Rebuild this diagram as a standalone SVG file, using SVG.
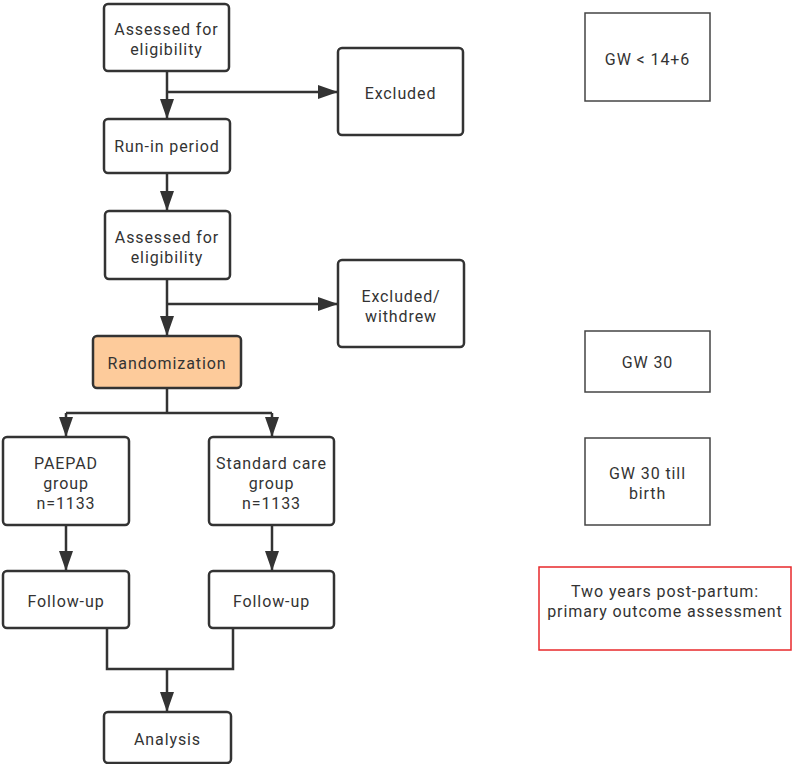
<svg xmlns="http://www.w3.org/2000/svg" width="792" height="764" viewBox="0 0 792 764">
<style>
.n{fill:#fff;stroke:#333;stroke-width:2.5}
.o{fill:#fdcb9b;stroke:#333;stroke-width:2.5}
.s{fill:#fff;stroke:#444;stroke-width:1.5}
.r{fill:#fff;stroke:#e8282b;stroke-width:1.5}
.c{fill:none;stroke:#333;stroke-width:2.5}
text{font-family:Roboto,"Liberation Sans",sans-serif;font-size:16px;letter-spacing:0.9px;fill:#333;text-anchor:middle}
</style>
<defs>
<marker id="a" markerUnits="userSpaceOnUse" markerWidth="20" markerHeight="14" refX="20" refY="7" orient="auto">
<path d="M0,0 L20,7 L0,14 z" fill="#333"/>
</marker>
</defs>
<rect width="792" height="764" fill="#fff"/>
<g id="connectors">
<path class="c" d="M167,71 V119" marker-end="url(#a)"/>
<path class="c" d="M167,92 H338" marker-end="url(#a)"/>
<path class="c" d="M167,173 V211" marker-end="url(#a)"/>
<path class="c" d="M167,279 V336" marker-end="url(#a)"/>
<path class="c" d="M167,304 H338" marker-end="url(#a)"/>
<path class="c" d="M167,388 V413"/>
<path class="c" d="M66,413 H272"/>
<path class="c" d="M66,413 V437" marker-end="url(#a)"/>
<path class="c" d="M272,413 V437" marker-end="url(#a)"/>
<path class="c" d="M66,525 V571" marker-end="url(#a)"/>
<path class="c" d="M272,525 V571" marker-end="url(#a)"/>
<path class="c" d="M107,628 V669 H233 V628"/>
<path class="c" d="M167,669 V712" marker-end="url(#a)"/>
</g>
<g id="assess1"><rect class="n" x="104" y="4" width="125" height="67" rx="4"/><text x="166.5" y="35">Assessed for</text><text x="166.5" y="55">eligibility</text></g>
<g id="excluded1"><rect class="n" x="338" y="48" width="125" height="87" rx="4"/><text x="400.5" y="99">Excluded</text></g>
<g id="runin"><rect class="n" x="104" y="119" width="126" height="54" rx="4"/><text x="167" y="152">Run-in period</text></g>
<g id="assess2"><rect class="n" x="105" y="211" width="125" height="68" rx="4"/><text x="167" y="243">Assessed for</text><text x="167" y="263">eligibility</text></g>
<g id="excluded2"><rect class="n" x="338" y="260" width="126" height="87" rx="4"/><text x="401" y="302">Excluded/</text><text x="401" y="322">withdrew</text></g>
<g id="random"><rect class="o" x="93" y="336" width="148" height="52" rx="4"/><text x="167" y="369">Randomization</text></g>
<g id="paepad"><rect class="n" x="3" y="437" width="126" height="88" rx="4"/><text x="66" y="469">PAEPAD</text><text x="66" y="489">group</text><text x="66" y="509">n=1133</text></g>
<g id="standard"><rect class="n" x="209" y="437" width="125" height="88" rx="4"/><text x="271.5" y="469">Standard care</text><text x="271.5" y="489">group</text><text x="271.5" y="509">n=1133</text></g>
<g id="follow1"><rect class="n" x="3" y="571" width="126" height="57" rx="4"/><text x="66" y="607">Follow-up</text></g>
<g id="follow2"><rect class="n" x="209" y="571" width="125" height="57" rx="4"/><text x="271.5" y="607">Follow-up</text></g>
<g id="analysis"><rect class="n" x="104" y="712" width="127" height="51" rx="4"/><text x="167.5" y="745">Analysis</text></g>
<g id="gw1"><rect class="s" x="585" y="13" width="125" height="88"/><text x="647.5" y="65">GW &lt; 14+6</text></g>
<g id="gw30"><rect class="s" x="585" y="331" width="125" height="61"/><text x="647.5" y="368">GW 30</text></g>
<g id="gw30b"><rect class="s" x="585" y="438" width="125" height="87"/><text x="647.5" y="479">GW 30 till</text><text x="647.5" y="499">birth</text></g>
<g id="twoyears"><rect class="r" x="539" y="567" width="252" height="83"/><text x="665" y="597">Two years post-partum:</text><text x="665" y="617">primary outcome assessment</text></g>
</svg>
